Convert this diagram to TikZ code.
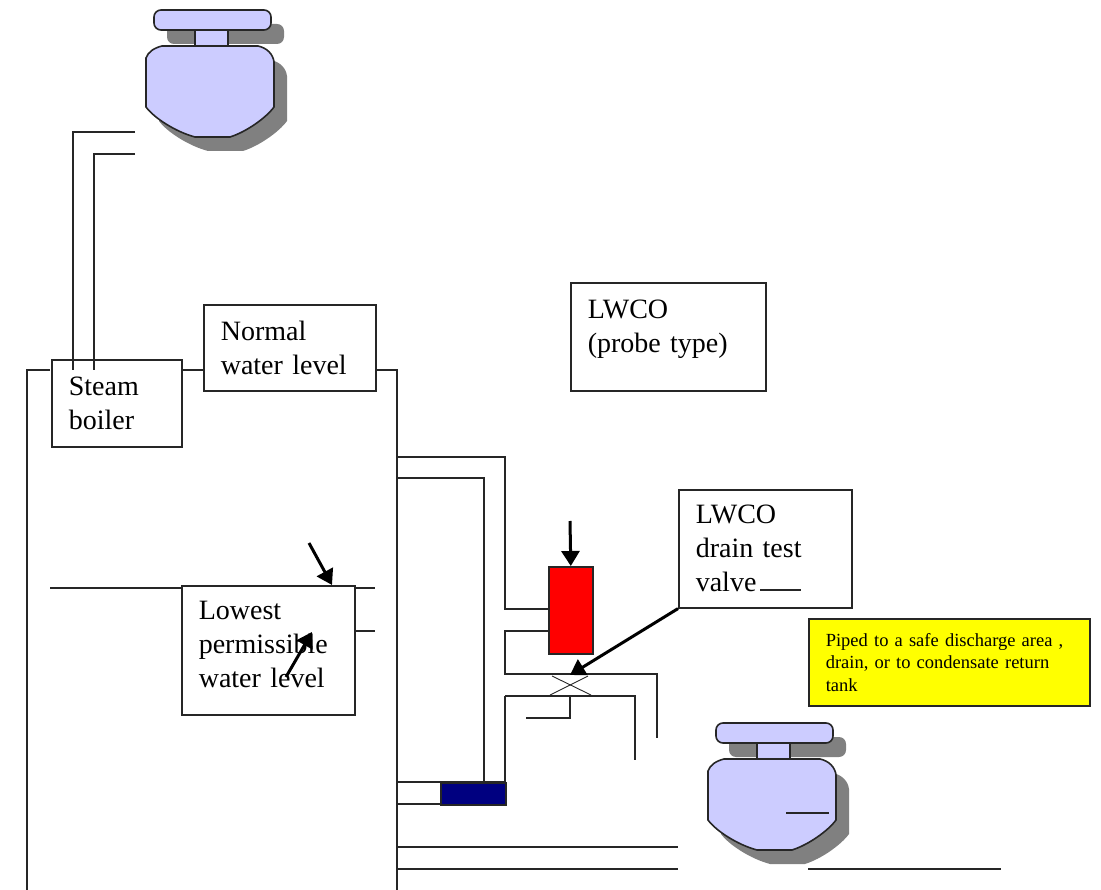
\documentclass[tikz,border=0pt]{standalone}
\usepackage{fontspec}
\setmainfont{Liberation Serif}
\usepackage{tikz}
\usetikzlibrary{arrows.meta, positioning}

\definecolor{gaugeblue}{RGB}{204,204,255}
\definecolor{shadowgray}{RGB}{128,128,128}
\definecolor{drumnavy}{RGB}{0,0,128}
\definecolor{noteyellow}{RGB}{255,255,0}

\tikzset{
  pics/gauge/.style={code={
    \fill[shadowgray, rounded corners=7pt] (21,-22) rectangle (138,-2);
    \fill[shadowgray, shift={(13,14)}] (16,0) -- (112,0) .. controls (121,2) and (127,8) .. (128,16) -- (128,61) .. controls (120,72) and (100,86) .. (84,91) -- (49,91) .. controls (30,86) and (8,72) .. (0,61) -- (0,12) .. controls (2,6) and (8,2) .. (16,0) -- cycle;
    \draw[gaugeline] (49,-16) rectangle (82,0);
    \draw[gaugeline, rounded corners=7pt] (8,-36) rectangle (125,-16);
    \draw[gaugeline] (16,0) -- (112,0) .. controls (121,2) and (127,8) .. (128,16) -- (128,61) .. controls (120,72) and (100,86) .. (84,91) -- (49,91) .. controls (30,86) and (8,72) .. (0,61) -- (0,12) .. controls (2,6) and (8,2) .. (16,0) -- cycle;
  }}
}

\begin{document}
\begin{tikzpicture}[x=1pt, y=-1pt,
      box/.style={draw=black!85, fill=white, line width=1.6pt, anchor=north west, align=left, inner sep=0pt, font=\fontsize{28}{34}\selectfont},
      note/.style={draw=black!85, fill=noteyellow, line width=1.6pt, anchor=north west, align=left, inner sep=0pt, font=\fontsize{18.5}{22.5}\selectfont},
      pipe/.style={draw=black!85, line width=1.6pt},
      gaugeline/.style={draw=black!85, fill=gaugeblue, line width=1.6pt},
      arr/.style={-{Triangle[length=15pt, width=18pt]}, line width=3pt, black}]
    \useasboundingbox (0,0) rectangle (1101,890);

    % gauges
    \pic at (146,46) {gauge};
    \pic at (708,759) {gauge};
    \draw[pipe] (786,813) -- (829,813);

    % shell
    \draw[pipe] (50,370) -- (27,370) -- (27,890);
    \draw[pipe] (375,370) -- (397,370) -- (397,890);
    \draw[pipe] (180,370) -- (203,370);

    % labels
    \node[box, minimum width=130pt, minimum height=87pt, text width=130pt] (steam) at (51,359) {\hspace*{17pt}Steam\\\hspace*{17pt}boiler};
    \node[box, minimum width=172pt, minimum height=86pt, text width=172pt] (normal) at (203,304) {\hspace*{17pt}Normal\\\hspace*{17pt}water level};
    \node[box, minimum width=195pt, minimum height=108pt, text width=195pt, text depth=56pt] (probe) at (570,282) {\hspace*{17pt}LWCO\\\hspace*{17pt}(probe type)};
    \node[box, minimum width=173pt, minimum height=118pt, text width=173pt] (drain) at (678,489) {\hspace*{17pt}LWCO\\\hspace*{17pt}drain test\\\hspace*{17pt}valve};
    \node[box, minimum width=173pt, minimum height=129pt, text width=173pt, text depth=80pt] (lowest) at (181,585) {\hspace*{17pt}Lowest\\\hspace*{17pt}permissible\\\hspace*{17pt}water level};
    \node[note, minimum width=281pt, minimum height=87pt, text width=281pt] (discharge) at (808,618) {\hspace*{17pt}Piped to a safe discharge area ,\\\hspace*{17pt}drain, or to condensate return\\\hspace*{17pt}tank};

    % steam line
    \draw[pipe] (135,132) -- (73,132) -- (73,370);
    \draw[pipe] (135,154) -- (94,154) -- (94,370);

    % water level lines
    \draw[pipe] (50,588) -- (181,588);
    \draw[pipe] (354,588) -- (375,588);
    \draw[pipe] (354,631) -- (375,631);
    \draw[pipe] (760,590) -- (801,590);

    % cut-off and its piping
    \node[draw=black!85, fill=red, line width=1.6pt, anchor=north west, inner sep=0pt, minimum width=44pt, minimum height=87pt] (cutoff) at (548,566) {};
    \node[draw=black!85, fill=drumnavy, line width=1.6pt, anchor=north west, inner sep=0pt, minimum width=65pt, minimum height=22pt] (drum) at (440,782) {};
    \draw[pipe] (397,457) -- (505,457) -- (505,609) -- (548,609);
    \draw[pipe] (397,478) -- (484,478) -- (484,782);
    \draw[pipe] (397,782) -- (505,782) -- (505,696);
    \draw[pipe] (397,804) -- (440,804);
    \draw[pipe] (548,631) -- (505,631) -- (505,674) -- (657,674) -- (657,738);
    \draw[pipe] (505,696) -- (635,696) -- (635,760);
    \draw[pipe] (570,696) -- (570,718) -- (526,718);

    % valve
    \draw[black!85, line width=0.9pt] (552,676) -- (591,695);
    \draw[black!85, line width=0.9pt] (550,695) -- (588,676);

    % bottom lines
    \draw[pipe] (397,847) -- (678,847);
    \draw[pipe] (397,869) -- (678,869);
    \draw[pipe] (808,869) -- (1001,869);

    % pointers
    \draw[arr] (570,521) -- (cutoff.north);
    \draw[arr] (drain.south west) -- (570,675);
    \draw[arr] (309,543) -- (332,585);
    \draw[arr] (286,677) -- (312,632);
\end{tikzpicture}
\end{document}
